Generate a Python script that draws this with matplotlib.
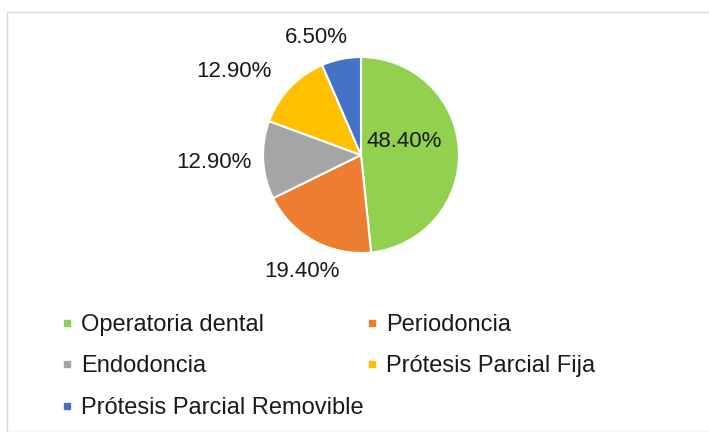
import numpy as np
import matplotlib.pyplot as plt
from matplotlib.lines import Line2D
from matplotlib.patches import Rectangle

# Data
categories = ["Operatoria dental", "Periodoncia", "Endodoncia",
              "Prótesis Parcial Fija", "Prótesis Parcial Removible"]
shares = [48.4, 19.4, 12.9, 12.9, 6.5]
pct_labels = ["48.40%", "19.40%", "12.90%", "12.90%", "6.50%"]
colors = ["#92D050", "#ED7D31", "#A5A5A5", "#FFC000", "#4472C4"]

# label placement (radius factor, angle tweak in degrees)
label_r = [0.46, 1.33, 1.5, 1.55, 1.28]
label_dang = [14, 2, 0, 10, 9]

plt.rcParams['font.family'] = ['Liberation Sans', 'DejaVu Sans']

W, H = 709, 432
fig = plt.figure(figsize=(W / 100, H / 100), dpi=100)

# faint chart frame
fig.patches.append(Rectangle((7 / W, 0), 1, 1 - 12 / H, transform=fig.transFigure,
                             facecolor="none", edgecolor="#d9d9d9", linewidth=1))

cx, cy, r = 361, 155, 98
half = r * 1.8
ax = fig.add_axes([(cx - half) / W, (H - cy - half) / H, 2 * half / W, 2 * half / H])

wedges, _ = ax.pie(shares, colors=colors, startangle=90, counterclock=False,
                   radius=1, wedgeprops=dict(edgecolor="white", linewidth=1.5))
ax.set_xlim(-1.8, 1.8)
ax.set_ylim(-1.8, 1.8)
ax.axis("off")
for w in wedges:
    w.set_clip_on(False)

for w, lab, rf, da in zip(wedges, pct_labels, label_r, label_dang):
    mid = np.deg2rad((w.theta1 + w.theta2) / 2 + da)
    ax.text(rf * np.cos(mid), rf * np.sin(mid), lab, ha="center", va="center",
            fontsize=16, color="#1a1a1a", clip_on=False)

# legend, filled row by row like the original
handles = [Line2D([], [], marker="s", linestyle="none", markersize=5,
                  markerfacecolor=c, markeredgecolor=c) for c in colors]
order = [0, 2, 4, 1, 3]
fig.legend([handles[i] for i in order], [categories[i] for i in order],
           loc="upper left", bbox_to_anchor=(49 / W, 1 - 302 / H), ncol=2,
           frameon=False, fontsize=17, handlelength=0.5, handletextpad=0.35,
           labelspacing=0.83, columnspacing=0.1, borderpad=0, labelcolor="#1a1a1a")

fig.savefig("out.png", dpi=100)
